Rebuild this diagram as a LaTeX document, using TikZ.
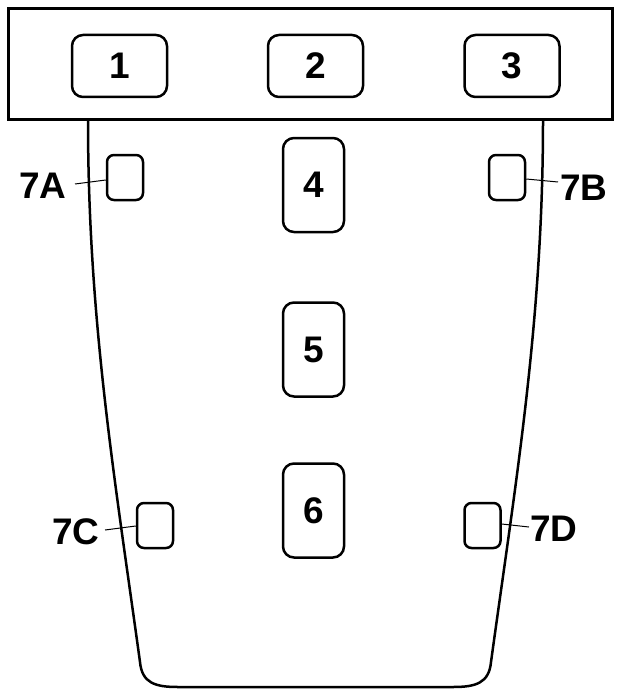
\documentclass[tikz,border=0pt]{standalone}
\usepackage{fontspec}
\setmainfont{Liberation Sans}
\begin{document}
\begin{tikzpicture}[x=1pt,y=-1pt,
  bigbox/.style={draw,line width=2.5pt,rounded corners=11pt,minimum width=95pt,minimum height=62pt,inner sep=0pt,font=\fontsize{37}{40}\selectfont\bfseries},
  tallbox/.style={draw,line width=2.5pt,rounded corners=11pt,minimum width=61pt,minimum height=94pt,inner sep=0pt,font=\fontsize{37}{40}\selectfont\bfseries},
  smallbox/.style={draw,line width=2.5pt,rounded corners=7pt,minimum width=36pt,minimum height=45pt,inner sep=0pt},
  lbl/.style={inner sep=0pt,font=\fontsize{37}{40}\selectfont\bfseries},
  outline/.style={line width=2.5pt,line join=round},
  leader/.style={line width=1pt}]
\useasboundingbox (0,0) rectangle (620,690);
% body
\draw[outline] (88,120) .. controls (88,320) and (115,480) .. (140,662)
  .. controls (142,683) and (155,687) .. (178,687) -- (453,687)
  .. controls (476,687) and (489,683) .. (491,662)
  .. controls (516,480) and (543,320) .. (543,120);
% top bar
\draw[line width=3pt,fill=white] (8,9) rectangle (612,120);
\node[bigbox] (b1) at (119.5,66) {1};
\node[bigbox] (b2) at (315.5,66) {2};
\node[bigbox] (b3) at (512,66) {3};
\node[tallbox] (b4) at (313.5,185) {4};
\node[tallbox] (b5) at (313.5,349.5) {5};
\node[tallbox] (b6) at (313.5,510.5) {6};
\node[smallbox] (b7a) at (125,177.5) {};
\node[smallbox] (b7b) at (507,177.5) {};
\node[smallbox] (b7c) at (155,525.5) {};
\node[smallbox] (b7d) at (482.5,525.5) {};
\node[lbl] (l7a) at (43,185.5) {7A};
\node[lbl] (l7b) at (584,187.5) {7B};
\node[lbl] (l7c) at (76,532) {7C};
\node[lbl] (l7d) at (554,529) {7D};
\coordinate (c7a) at (75,184);
\coordinate (c7b) at (558,182);
\coordinate (c7c) at (105,530);
\coordinate (c7d) at (529,527);
\draw[leader] (c7a) -- ([yshift=-2.5pt]b7a.west);
\draw[leader] ([yshift=-1.5pt]b7b.east) -- (c7b);
\draw[leader] (c7c) -- ([yshift=-0.5pt]b7c.west);
\draw[leader] ([yshift=1.5pt]b7d.east) -- (c7d);
\end{tikzpicture}
\end{document}
